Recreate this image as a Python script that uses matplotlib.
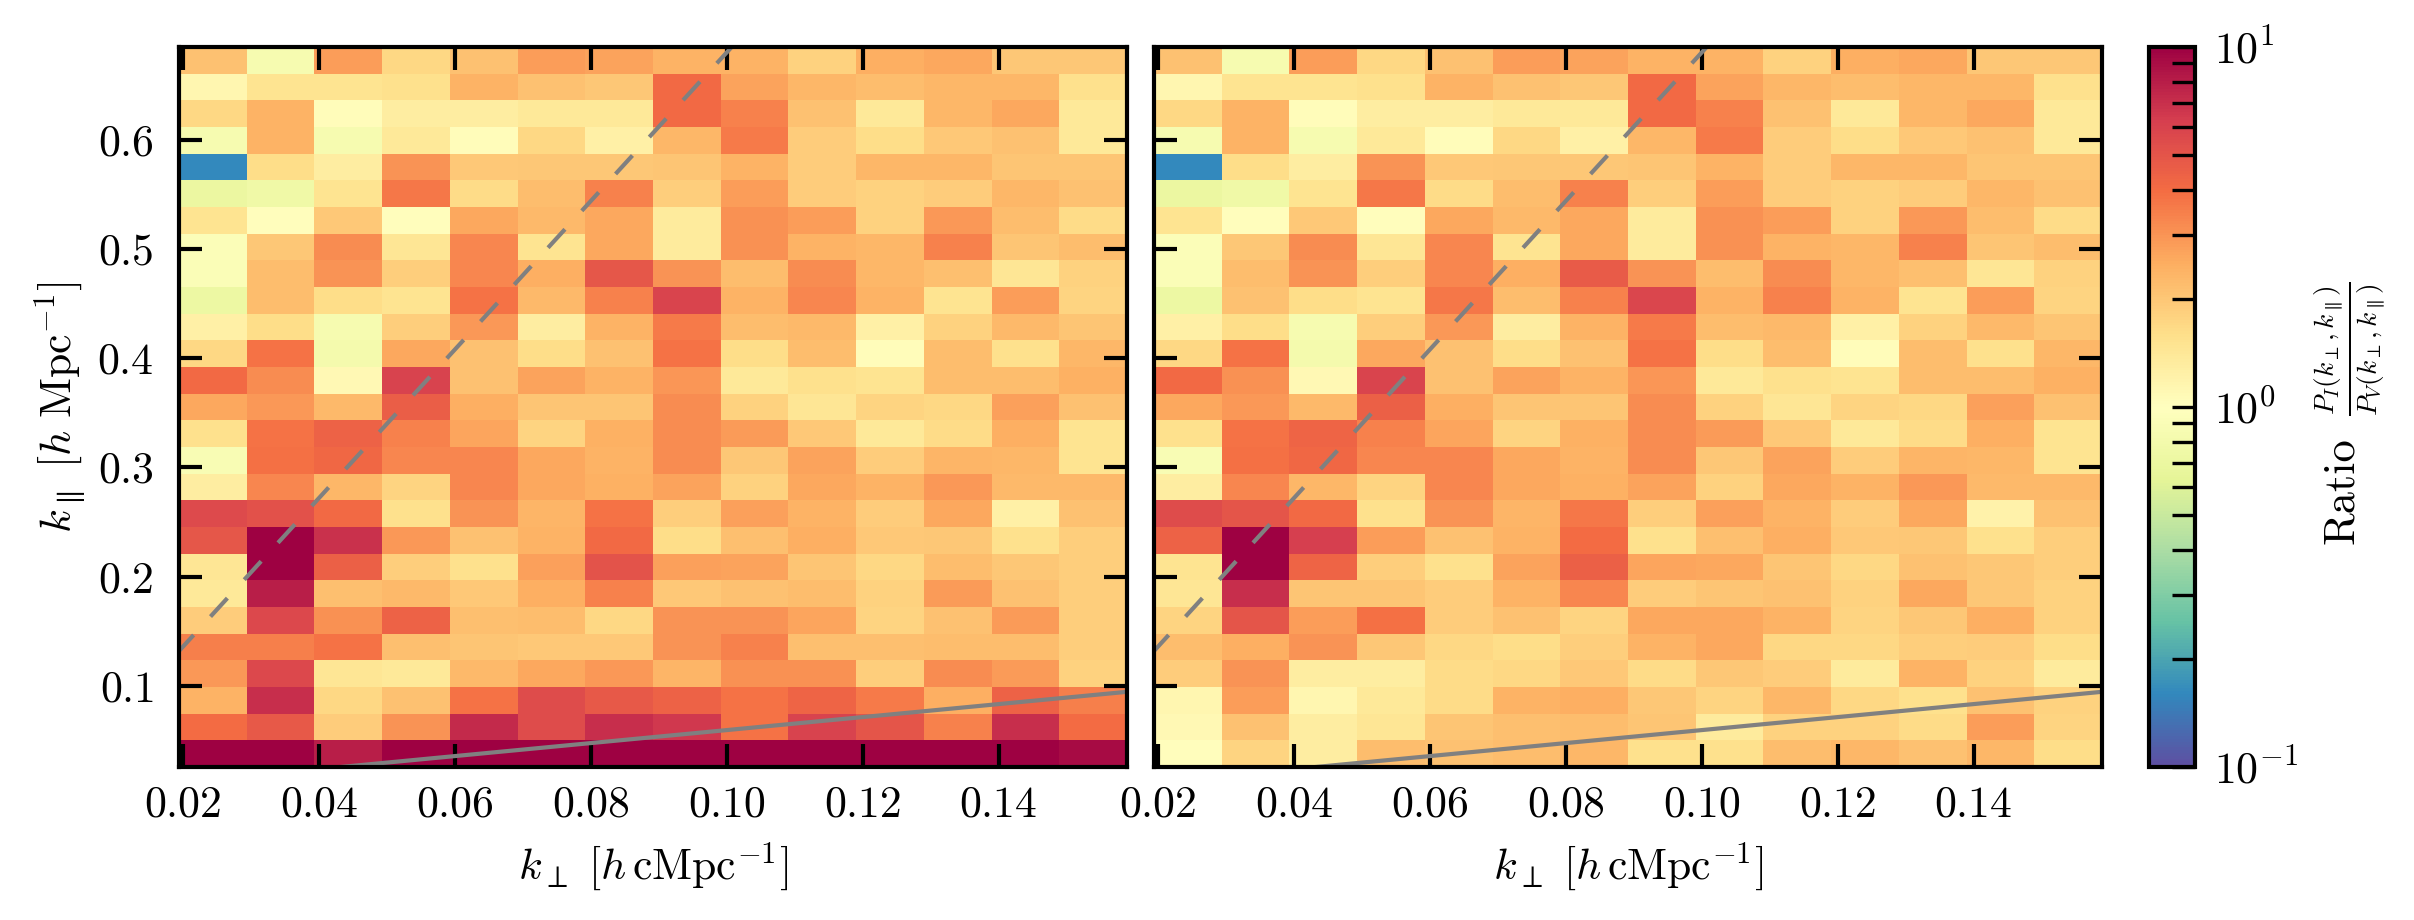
import matplotlib
matplotlib.use('Agg')
import matplotlib.pyplot as plt
import numpy as np
from matplotlib.colors import LogNorm

plt.rcParams['font.family'] = ['cmr10', 'DejaVu Serif']
plt.rcParams['axes.formatter.use_mathtext'] = True
plt.rcParams['mathtext.fontset'] = 'cm'

# ratio per cell, top row first
ratio_left = [
    [2.1, .85, 2.8, 1.7, 2.1, 2.8, 2.7, 2.4, 2.4, 1.8, 2.5, 2.6, 2.0, 2.0],
    [1.15, 1.5, 1.5, 1.55, 2.4, 2.1, 2.0, 4.1, 2.7, 2.3, 2.2, 2.3, 2.3, 1.55],
    [1.7, 2.4, 1.05, 1.3, 1.3, 1.4, 1.4, 4.1, 3.4, 2.1, 1.4, 2.3, 2.6, 1.4],
    [.85, 2.4, .85, 1.4, 1.05, 1.7, 1.25, 2.3, 3.6, 1.9, 1.6, 1.95, 2.1, 1.4],
    [.16, 1.6, 1.3, 3.0, 1.95, 2.0, 2.0, 2.05, 2.4, 1.9, 2.3, 2.3, 2.05, 2.05],
    [.7, .75, 1.5, 3.7, 1.65, 2.2, 3.4, 1.85, 2.8, 1.9, 1.8, 1.9, 2.3, 2.1],
    [1.5, 1.02, 1.95, 1.03, 2.6, 2.25, 2.6, 1.35, 3.1, 2.8, 1.8, 2.9, 2.2, 1.65],
    [.92, 2.0, 3.2, 1.45, 3.3, 1.5, 2.6, 1.35, 3.1, 2.4, 2.3, 3.4, 2.05, 2.2],
    [.9, 2.2, 3.0, 1.85, 3.3, 2.5, 4.9, 3.0, 2.2, 3.2, 2.3, 2.15, 1.45, 1.8],
    [.72, 2.2, 1.6, 1.5, 3.8, 2.25, 3.4, 5.9, 2.4, 3.3, 2.4, 1.5, 2.8, 1.75],
    [1.25, 1.6, .85, 1.85, 2.9, 1.3, 2.4, 3.6, 2.2, 2.25, 1.25, 1.8, 2.25, 2.05],
    [1.7, 3.8, .82, 2.6, 2.1, 1.6, 2.1, 3.8, 1.6, 2.2, 1.05, 2.2, 1.55, 2.3],
    [4.1, 3.2, 1.1, 6.0, 2.1, 2.7, 2.4, 2.95, 1.4, 1.55, 1.5, 2.2, 2.2, 2.45],
    [2.6, 2.9, 2.25, 4.6, 2.5, 2.05, 2.05, 3.2, 1.8, 1.45, 1.75, 1.7, 2.75, 2.1],
    [1.55, 3.8, 4.4, 3.4, 2.65, 1.75, 2.45, 3.2, 2.85, 1.95, 1.4, 1.65, 2.5, 1.5],
    [.88, 3.9, 4.2, 3.3, 3.3, 2.6, 2.4, 3.2, 2.0, 2.7, 1.9, 2.35, 2.3, 1.5],
    [1.3, 3.3, 2.3, 1.75, 3.3, 2.6, 2.45, 2.7, 1.8, 2.6, 2.4, 2.9, 2.25, 2.25],
    [5.6, 5.2, 4.1, 1.55, 3.0, 2.35, 3.8, 1.85, 2.75, 2.4, 1.9, 2.6, 1.25, 2.1],
    [4.9, 10, 6.9, 2.9, 2.1, 2.4, 4.1, 1.6, 2.15, 2.5, 1.95, 2.0, 1.55, 1.85],
    [1.45, 10, 4.5, 1.85, 1.55, 2.75, 5.1, 2.75, 2.7, 2.05, 1.7, 2.2, 2.0, 1.85],
    [1.4, 8.0, 2.15, 2.25, 1.95, 2.5, 3.4, 1.95, 2.1, 2.2, 1.8, 2.85, 2.1, 1.85],
    [1.9, 5.7, 3.1, 4.4, 2.15, 2.2, 1.7, 3.0, 3.0, 2.65, 1.75, 2.1, 2.85, 1.85],
    [3.5, 3.5, 3.8, 2.15, 2.05, 1.95, 1.95, 3.0, 3.4, 2.15, 2.15, 2.2, 2.2, 1.85],
    [2.9, 5.7, 1.45, 1.4, 2.25, 2.6, 2.9, 2.35, 3.1, 3.1, 1.85, 3.2, 2.85, 1.8],
    [2.4, 7.0, 1.7, 2.1, 3.8, 5.5, 4.8, 4.4, 3.8, 4.3, 3.6, 2.5, 4.4, 3.5],
    [4.0, 4.8, 1.9, 3.0, 7.3, 5.5, 7.0, 6.5, 3.8, 6.0, 5.0, 3.4, 7.0, 4.0],
    [10, 10, 8.0, 10, 10, 10, 10, 10, 10, 10, 10, 10, 10, 9.3],
]
ratio_right = [
    [2.1, .85, 2.8, 1.7, 2.1, 2.8, 2.7, 2.4, 2.4, 1.8, 2.5, 2.6, 2.0, 2.0],
    [1.15, 1.5, 1.5, 1.55, 2.4, 2.1, 2.0, 4.1, 2.7, 2.3, 2.2, 2.3, 2.3, 1.55],
    [1.7, 2.4, 1.05, 1.3, 1.3, 1.4, 1.4, 4.1, 3.4, 2.1, 1.4, 2.3, 2.6, 1.4],
    [.85, 2.4, .85, 1.4, 1.05, 1.7, 1.25, 2.3, 3.6, 1.9, 1.6, 1.95, 2.1, 1.4],
    [.16, 1.6, 1.3, 3.0, 1.95, 2.0, 2.0, 2.05, 2.4, 1.9, 2.3, 2.3, 2.05, 2.05],
    [.7, .75, 1.5, 3.7, 1.65, 2.2, 3.4, 1.85, 2.8, 1.9, 1.8, 1.9, 2.3, 2.1],
    [1.5, 1.02, 1.95, 1.03, 2.6, 2.25, 2.6, 1.35, 3.1, 2.8, 1.8, 2.9, 2.2, 1.65],
    [.92, 2.0, 3.2, 1.45, 3.3, 1.5, 2.6, 1.35, 3.1, 2.4, 2.3, 3.4, 2.05, 2.2],
    [.9, 2.2, 3.0, 1.85, 3.3, 2.5, 4.7, 3.0, 2.2, 3.2, 2.3, 2.15, 1.45, 1.8],
    [.72, 2.1, 1.6, 1.5, 3.7, 2.2, 3.4, 5.8, 2.4, 3.4, 2.4, 1.5, 2.8, 1.75],
    [1.25, 1.6, .85, 1.85, 2.9, 1.3, 2.4, 3.6, 2.2, 2.25, 1.25, 1.8, 2.25, 2.05],
    [1.7, 3.8, .82, 2.6, 2.1, 1.6, 2.1, 3.8, 1.6, 2.2, 1.05, 2.2, 1.55, 2.3],
    [4.1, 3.1, 1.1, 5.9, 2.1, 2.7, 2.4, 2.95, 1.4, 1.55, 1.5, 2.2, 2.2, 2.45],
    [2.6, 2.9, 2.25, 4.5, 2.5, 2.05, 2.05, 3.2, 1.8, 1.45, 1.75, 1.7, 2.75, 2.1],
    [1.55, 3.8, 4.3, 3.4, 2.65, 1.75, 2.45, 3.2, 2.85, 1.95, 1.4, 1.65, 2.5, 1.5],
    [.88, 3.9, 4.2, 3.3, 3.3, 2.6, 2.4, 3.2, 2.0, 2.7, 1.9, 2.35, 2.3, 1.5],
    [1.3, 3.3, 2.3, 1.75, 3.3, 2.6, 2.45, 2.7, 1.8, 2.6, 2.4, 2.9, 2.25, 2.25],
    [5.5, 5.0, 4.1, 1.55, 3.0, 2.35, 3.7, 1.85, 2.75, 2.4, 1.9, 2.6, 1.2, 2.1],
    [4.4, 10, 6.2, 2.8, 2.1, 2.4, 4.0, 1.55, 2.15, 2.5, 1.95, 2.0, 1.55, 1.85],
    [1.5, 10, 4.3, 1.85, 1.55, 2.7, 4.5, 2.65, 2.6, 2.05, 1.7, 2.1, 2.0, 1.85],
    [1.45, 7.0, 2.05, 2.05, 1.9, 2.4, 3.3, 1.9, 2.05, 2.1, 1.8, 2.6, 2.0, 1.8],
    [1.75, 5.0, 2.8, 3.9, 1.9, 2.1, 1.75, 2.6, 2.6, 2.4, 1.75, 2.0, 2.5, 1.8],
    [2.2, 2.5, 3.0, 2.0, 1.7, 1.6, 1.85, 2.4, 2.6, 1.7, 1.7, 1.85, 1.9, 1.6],
    [1.9, 3.0, 1.3, 1.3, 1.65, 1.7, 1.95, 1.65, 2.0, 1.9, 1.35, 2.4, 1.8, 1.35],
    [1.15, 2.8, 1.15, 1.4, 1.65, 2.4, 2.5, 2.0, 1.75, 2.3, 1.7, 1.55, 2.1, 1.8],
    [1.1, 2.1, 1.3, 1.45, 2.05, 2.15, 2.2, 2.05, 1.35, 1.8, 1.8, 1.65, 2.8, 1.75],
    [1.03, 1.75, 1.3, 2.2, 2.1, 2.2, 2.3, 1.55, 1.55, 2.2, 2.3, 2.1, 2.3, 1.6],
]

kperp_range = [0.0194, 0.1589]
kpar_range = [0.0257, 0.685]
kperp_ticks = [0.02, 0.04, 0.06, 0.08, 0.10, 0.12, 0.14]
kpar_ticks = [0.1, 0.2, 0.3, 0.4, 0.5, 0.6]
# the two wedge lines, k_par = slope * k_perp
wedge_solid = 0.595
wedge_dashed = 6.8

W, H = 2414, 920
fig = plt.figure(figsize=(W / 300, H / 300), dpi=300)
ax1 = fig.add_axes([179 / W, 1 - 767 / H, 948 / W, 720 / H])
ax2 = fig.add_axes([1154 / W, 1 - 767 / H, 948 / W, 720 / H])
cax = fig.add_axes([2149 / W, 1 - 767 / H, 46 / W, 720 / H])

norm = LogNorm(vmin=0.1, vmax=10)
xedges = np.linspace(kperp_range[0], kperp_range[1], 15)
yedges = np.linspace(kpar_range[0], kpar_range[1], 28)

for ax, ratio in [(ax1, ratio_left), (ax2, ratio_right)]:
    mesh = ax.pcolormesh(xedges, yedges, np.array(ratio)[::-1], cmap='Spectral_r', norm=norm)
    xline = np.array(kperp_range)
    ax.plot(xline, wedge_solid * xline, color='gray', lw=1.0)
    ax.plot(xline, wedge_dashed * xline, color='gray', lw=1.0, ls=(0.8, (6, 6)))
    ax.set_xlim(kperp_range)
    ax.set_ylim(kpar_range)
    ax.set_xticks(kperp_ticks)
    ax.set_xticklabels(['%.2f' % t for t in kperp_ticks])
    ax.set_yticks(kpar_ticks)
    ax.tick_params(which='both', direction='in', top=True, right=True, width=1.0, length=5.5,
                   labelsize=10.5, pad=6)
    ax.tick_params(axis='x', pad=4.5)
    ax.set_xlabel(r'$k_{\perp}\ [h\,\mathrm{cMpc}^{-1}]$', fontsize=10.5, labelpad=3.7)
    for s in ax.spines.values():
        s.set_linewidth(1.0)

ax1.set_ylabel(r'$k_{\parallel}\ [h\ \mathrm{Mpc}^{-1}]$', fontsize=10.5, labelpad=2.2)
ax2.tick_params(labelleft=False)

cb = fig.colorbar(mesh, cax=cax)
cb.ax.tick_params(which='both', direction='in', width=0.8, length=5.5, labelsize=10.5, pad=4.5)
cb.outline.set_linewidth(1.0)

# the word and the fraction have different sizes in the colourbar label
fig.text(2342 / W, 1 - 491 / H, 'Ratio', rotation=90, fontsize=10.7, ha='center', va='center')
fig.text(2350 / W, 1 - 349 / H, r'$\frac{P_{I}(k_{\perp},k_{\parallel})}{P_{V}(k_{\perp},k_{\parallel})}$',
         rotation=90, fontsize=9.4, ha='center', va='center')

fig.savefig('out.png', dpi=300)
